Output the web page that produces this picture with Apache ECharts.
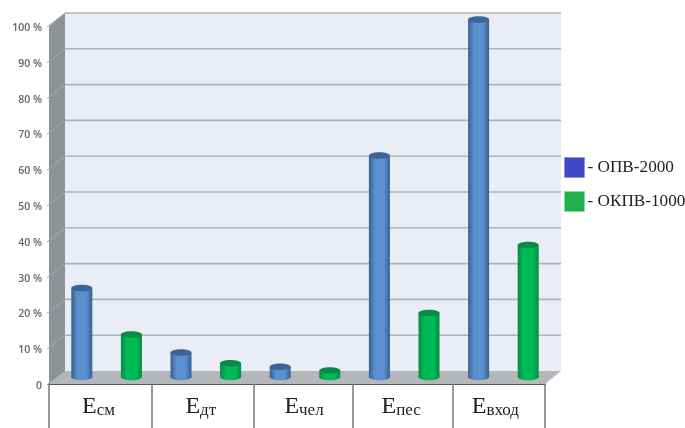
<!DOCTYPE html>
<html>
<head>
<meta charset="utf-8">
<style>html,body{margin:0;padding:0;background:#fff}#chart{width:685px;height:428px}</style>
<script src="https://cdn.jsdelivr.net/npm/echarts@6/dist/echarts.min.js"></script>
</head>
<body>
<div id="chart"></div>
<script>
const categories = ['Есм', 'Едт', 'Ечел', 'Епес', 'Евход'];
const opvValues = [25, 7, 3, 62, 100];
const okpvValues = [12, 4, 2, 18, 37];
const yTicks = [0, 10, 20, 30, 40, 50, 60, 70, 80, 90, 100];
const opvName = '- ОПВ-2000';
const okpvName = '- ОКПВ-1000';

// Depth of the pseudo-3D box, in pixels
const DEPTH_X = 16;
const DEPTH_Y = 13;
const CYL_RX = 10.5;
const CYL_RY = 3.2;

// The table under the axis has hand-set cell edges, not an even split
const TABLE_EDGES = [49, 152, 254, 353, 453, 545];
const TABLE_BOTTOM = 428;
const LABEL_SHIFTS = [0, 3, 7, 5, 0];

function wallItem(params, api) {
  const c = params.coordSys;
  const l = c.x, r = c.x + c.width, t = c.y, b = c.y + c.height;
  const poly = (points, fill) => ({ type: 'polygon', shape: { points }, style: { fill }, silent: true });
  const children = [
    poly([[l + DEPTH_X, t - DEPTH_Y], [r + DEPTH_X, t - DEPTH_Y], [r + DEPTH_X, b - DEPTH_Y], [l + DEPTH_X, b - DEPTH_Y]], '#e9edf6'),
    poly([[l, t], [l + DEPTH_X, t - DEPTH_Y], [l + DEPTH_X, b - DEPTH_Y], [l, b]], '#8f9396'),
    poly([[l, b], [l + DEPTH_X, b - DEPTH_Y], [r + DEPTH_X, b - DEPTH_Y], [r, b]], '#b4b6b9')
  ];
  yTicks.forEach(v => {
    const y = api.coord([0, v])[1];
    if (v > 0) {
      children.push({
        type: 'line', silent: true,
        shape: { x1: l + DEPTH_X, y1: y - DEPTH_Y, x2: r + DEPTH_X, y2: y - DEPTH_Y },
        style: { stroke: '#b0b2b6', lineWidth: 1.6 }
      });
    }
    children.push({
      type: 'line', silent: true,
      shape: { x1: l - 2, y1: y + 1, x2: l + DEPTH_X, y2: y - DEPTH_Y },
      style: { stroke: '#a6a9ac', lineWidth: 1 }
    });
  });
  TABLE_EDGES.forEach(x => {
    children.push({
      type: 'line', silent: true,
      shape: { x1: x, y1: b, x2: x, y2: TABLE_BOTTOM },
      style: { stroke: '#777777', lineWidth: 1.5 }
    });
  });
  return { type: 'group', children };
}

function cylinderRenderer(side, edge, mid, cap) {
  return function (params, api) {
    const band = api.size([1, 0])[0];
    const base = api.coord([api.value(0), 0]);
    const top = api.coord([api.value(0), api.value(1)]);
    const cx = base[0] + side * band / 4 + DEPTH_X / 2;
    const y0 = base[1] - DEPTH_Y / 2 - 0.5;
    const y1 = top[1] - DEPTH_Y / 2;
    const fill = new echarts.graphic.LinearGradient(0, 0, 1, 0, [
      { offset: 0, color: edge },
      { offset: 0.28, color: mid },
      { offset: 0.72, color: mid },
      { offset: 1, color: edge }
    ]);
    return {
      type: 'group',
      children: [
        { type: 'ellipse', shape: { cx, cy: y0, rx: CYL_RX, ry: CYL_RY }, style: { fill } },
        { type: 'rect', shape: { x: cx - CYL_RX, y: y1, width: CYL_RX * 2, height: y0 - y1 }, style: { fill } },
        { type: 'ellipse', shape: { cx, cy: y1, rx: CYL_RX, ry: CYL_RY }, style: { fill: cap } }
      ]
    };
  };
}

// One rich style per category so each label can sit centred in its own table cell
const labelRich = {
  s: { fontFamily: 'Liberation Serif', fontSize: 17, color: '#222222', verticalAlign: 'bottom', lineHeight: 22 }
};
categories.forEach((name, i) => {
  labelRich['b' + i] = {
    fontFamily: 'Liberation Serif', fontSize: 24, color: '#222222', verticalAlign: 'bottom', lineHeight: 26,
    padding: [0, 0, 0, LABEL_SHIFTS[i] * 2]
  };
});

const chart = echarts.init(document.getElementById('chart'), null, { renderer: 'canvas' });
chart.setOption({
  animation: false,
  backgroundColor: '#ffffff',
  grid: { left: 49, right: 140, top: 26, bottom: 44 },
  legend: {
    orient: 'vertical',
    left: 564,
    top: 157,
    padding: 0,
    itemWidth: 20,
    itemHeight: 20,
    itemGap: 13,
    icon: 'rect',
    selectedMode: false,
    textStyle: { fontFamily: 'Liberation Serif', fontSize: 17.2, color: '#222222', padding: [0, 0, 0, -2] },
    data: [
      { name: opvName, itemStyle: { color: '#3f48c8', borderColor: '#8f94e0', borderWidth: 1 } },
      { name: okpvName, itemStyle: { color: '#20b04c', borderColor: '#86dca0', borderWidth: 1 } }
    ]
  },
  xAxis: {
    type: 'category',
    data: categories,
    axisLine: { lineStyle: { color: '#555555', width: 2 } },
    axisTick: { show: false },
    axisLabel: {
      margin: 9,
      formatter: (v, i) => '{b' + i + '|' + v.charAt(0) + '}{s|' + v.slice(1) + '}',
      rich: labelRich
    }
  },
  yAxis: {
    type: 'value',
    min: 0,
    max: 100,
    interval: 10,
    splitLine: { show: false },
    axisLine: { show: false },
    axisTick: { show: false },
    axisLabel: {
      margin: 7,
      formatter: v => '{t|' + (v === 0 ? '0' : v + ' %') + '}',
      rich: {
        t: {
          fontFamily: 'Open Sans',
          fontSize: 10.5,
          fontWeight: 600,
          color: '#666666',
          padding: [4, 0, 0, 0]
        }
      }
    }
  },
  series: [
    {
      type: 'custom', name: 'walls', silent: true, clip: false, z: 1,
      renderItem: wallItem, data: [[0, 0]]
    },
    {
      type: 'custom', name: opvName, clip: false, z: 3,
      itemStyle: { color: '#3f48c8' },
      renderItem: cylinderRenderer(-1, '#35608f', '#5a8fd0', '#3b6596'),
      data: opvValues.map((v, i) => [i, v])
    },
    {
      type: 'custom', name: okpvName, clip: false, z: 3,
      itemStyle: { color: '#20b04c' },
      renderItem: cylinderRenderer(1, '#058a42', '#00bb55', '#068a45'),
      data: okpvValues.map((v, i) => [i, v])
    }
  ]
});
</script>
</body>
</html>
